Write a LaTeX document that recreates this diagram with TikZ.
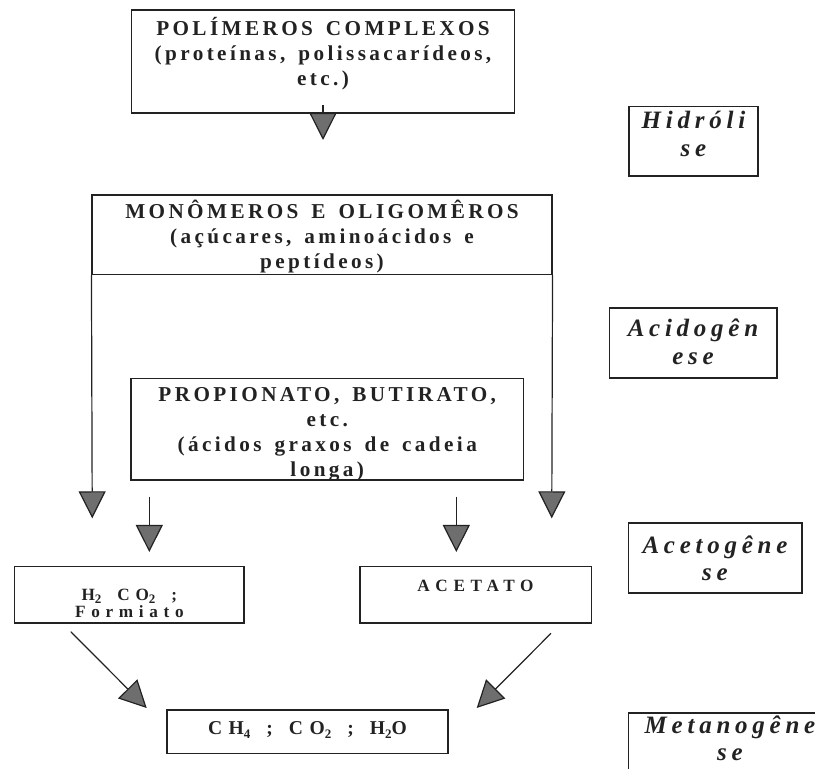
\documentclass[tikz,border=0pt]{standalone}
\usepackage{fontspec}
\setmainfont{Liberation Serif}
\usepackage{tikz}
\usetikzlibrary{arrows.meta}
\newfontfamily\caixafont[LetterSpace=16]{Liberation Serif}
\newfontfamily\produtofont[LetterSpace=33]{Liberation Serif}
\newfontfamily\fasefont[LetterSpace=19]{Liberation Serif}
\newcommand{\ind}[1]{\raisebox{-0.35ex}{\fontsize{6.5}{7}\selectfont#1}}
\definecolor{tinta}{HTML}{222222}
\definecolor{seta}{HTML}{6E6E6E}
\tikzset{
  caixa/.style={draw=tinta, line width=0.8pt, text=tinta, align=center, inner sep=0pt, text height=0pt},
  grande/.style={caixa, font=\caixafont\bfseries\fontsize{10.6}{12.5}\selectfont,
    execute at begin node={\baselineskip=12.5pt\spaceskip=6.5pt\relax}},
  produto/.style={caixa, font=\produtofont\bfseries\fontsize{8.6}{8.5}\selectfont,
    execute at begin node={\baselineskip=8.3pt\spaceskip=8pt\relax}},
  fase/.style={caixa, font=\fasefont\bfseries\itshape\fontsize{12.5}{13.8}\selectfont,
    execute at begin node={\baselineskip=13.8pt\relax}},
  flecha/.style={draw=tinta, line width=0.6pt, -{Triangle[length=13.5pt,width=13.5pt,fill=seta]}}
}

\begin{document}
\begin{tikzpicture}[x=0.5pt,y=-0.5pt]
\useasboundingbox (0,0) rectangle (815,769);
\clip (0,0) rectangle (815,769);

% caixas do processo
\node[grande, minimum width=191.5pt, minimum height=51.5pt, text width=188pt, text depth=25.7pt] (poli) at (323,61.5)
  {POLÍMEROS COMPLEXOS\\(proteínas, polissacarídeos,\\etc.)};
\node[grande, minimum width=229.75pt, minimum height=39.65pt, text width=225pt, text depth=16pt] (mono) at (322,234.7)
  {MONÔMEROS E OLIGOMÊROS\\(açúcares, aminoácidos e\\peptídeos)};
\node[grande, minimum width=196.25pt, minimum height=50.85pt, text width=192pt, text depth=27.9pt] (prop) at (327.25,429.2)
  {PROPIONATO, BUTIRATO,\\etc.\\(ácidos graxos de cadeia\\longa)};
\node[produto, minimum width=114.85pt, minimum height=28.3pt, text width=108pt, text height=5.7pt, text depth=0pt] (h2) at (129.4,595)
  {H\ind{2} CO\ind{2} ;\\Formiato};
\node[produto, minimum width=115.8pt, minimum height=28.3pt, text width=112pt, text depth=3.3pt] (acetato) at (475.5,595)
  {ACETATO};
\node[produto, font=\produtofont\bfseries\fontsize{9.8}{11}\selectfont, minimum width=140.3pt, minimum height=21.65pt, text width=138pt, text height=3.3pt, text depth=0pt] (ch4) at (307.5,731.7)
  {CH\ind{4} ; CO\ind{2} ; H\ind{2}O};

% fases
\node[fase, minimum width=64.25pt, minimum height=34.65pt, text width=63pt, text depth=12.3pt] (hidro) at (693.5,141.3) {Hidróli\\se};
\node[fase, minimum width=83.7pt, minimum height=35pt, text width=82pt, text depth=6.6pt] (acido) at (693,343.3) {Acidogên\\ese};
\node[fase, minimum width=86.7pt, minimum height=35pt, text width=85pt, text depth=5pt] (aceto) at (715,558.3) {Acetogêne\\se};
\node[fase, minimum width=101.7pt, minimum height=35pt, text width=100pt, text depth=15pt] (metano) at (730,748.3) {Metanogêne\\se};

% pontas livres
\coordinate (poliT) at (323,140);
\coordinate (monoL) at (92.25,518.3);
\coordinate (monoR) at (551.75,518.3);
\coordinate (propA) at (149.3,496.7);
\coordinate (propAt) at (149.3,552);
\coordinate (propB) at (456.3,496.7);
\coordinate (propBt) at (456.3,552);
\coordinate (h2D) at (70.8,631.7);
\coordinate (ch4L) at (146.7,708);
\coordinate (acD) at (551,633.3);
\coordinate (ch4R) at (476.7,708);

\draw[flecha] ([yshift=4.4pt]poli.south) -- (poliT);
\draw[flecha] (mono.south west) -- (monoL);
\draw[flecha] (mono.south east) -- (monoR);
\draw[flecha] (propA) -- (propAt);
\draw[flecha] (propB) -- (propBt);
\draw[flecha] (h2D) -- (ch4L);
\draw[flecha] (acD) -- (ch4R);
\end{tikzpicture}
\end{document}
